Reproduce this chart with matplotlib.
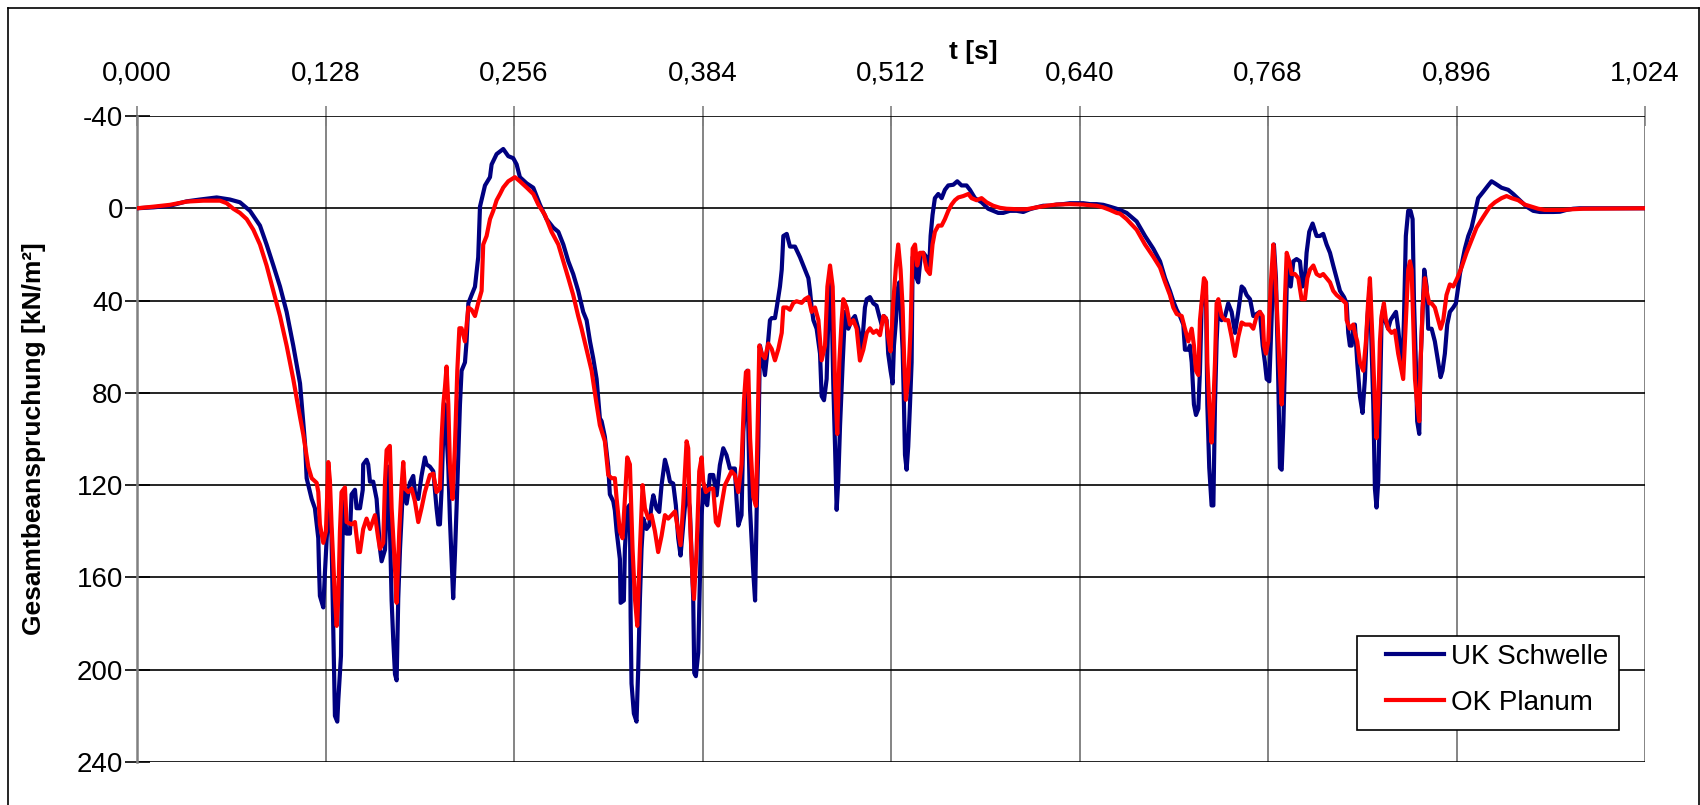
import matplotlib
matplotlib.use("Agg")
import matplotlib.pyplot as plt
from matplotlib.patches import Rectangle
from matplotlib.lines import Line2D

plt.rcParams['font.family'] = ['Liberation Sans', 'DejaVu Sans']

# ---------------- data ----------------
x_ticks = [0.000, 0.128, 0.256, 0.384, 0.512, 0.640, 0.768, 0.896, 1.024]
x_tick_labels = ["0,000", "0,128", "0,256", "0,384", "0,512", "0,640", "0,768", "0,896", "1,024"]
y_ticks = [-40, 0, 40, 80, 120, 160, 200, 240]

uk_t = [0.0000, 0.0111, 0.0224, 0.0337, 0.0428, 0.0541, 0.0631, 0.0699, 0.0767, 0.0835,
        0.0880, 0.0926, 0.0971, 0.1016, 0.1061, 0.1107, 0.1141, 0.1152, 0.1186, 0.1208,
        0.1231, 0.1236, 0.1242, 0.1265, 0.1276, 0.1299, 0.1310, 0.1321, 0.1333, 0.1344,
        0.1360, 0.1367, 0.1385, 0.1392, 0.1401, 0.1423, 0.1446, 0.1457, 0.1480, 0.1491,
        0.1514, 0.1533, 0.1536, 0.1559, 0.1570, 0.1582, 0.1604, 0.1627, 0.1650, 0.1661,
        0.1684, 0.1706, 0.1718, 0.1729, 0.1740, 0.1752, 0.1763, 0.1774, 0.1786, 0.1808,
        0.1831, 0.1853, 0.1876, 0.1887, 0.1910, 0.1932, 0.1955, 0.1966, 0.1989, 0.2012,
        0.2034, 0.2046, 0.2057, 0.2068, 0.2080, 0.2091, 0.2114, 0.2125, 0.2136, 0.2147,
        0.2159, 0.2170, 0.2181, 0.2193, 0.2204, 0.2227, 0.2238, 0.2250, 0.2272, 0.2295,
        0.2317, 0.2329, 0.2363, 0.2397, 0.2408, 0.2442, 0.2487, 0.2521, 0.2555, 0.2578,
        0.2600, 0.2646, 0.2691, 0.2736, 0.2781, 0.2827, 0.2861, 0.2895, 0.2929, 0.2962,
        0.2996, 0.3030, 0.3053, 0.3076, 0.3098, 0.3121, 0.3143, 0.3155, 0.3177, 0.3200,
        0.3211, 0.3234, 0.3245, 0.3257, 0.3279, 0.3284, 0.3306, 0.3313, 0.3329, 0.3347,
        0.3352, 0.3358, 0.3374, 0.3392, 0.3404, 0.3415, 0.3426, 0.3438, 0.3460, 0.3478,
        0.3494, 0.3506, 0.3528, 0.3546, 0.3562, 0.3585, 0.3601, 0.3619, 0.3641, 0.3659,
        0.3675, 0.3691, 0.3709, 0.3732, 0.3754, 0.3777, 0.3784, 0.3795, 0.3811, 0.3822,
        0.3834, 0.3845, 0.3856, 0.3872, 0.3890, 0.3913, 0.3936, 0.3958, 0.3981, 0.4003,
        0.4026, 0.4060, 0.4071, 0.4083, 0.4105, 0.4117, 0.4135, 0.4144, 0.4151, 0.4163,
        0.4185, 0.4197, 0.4208, 0.4219, 0.4230, 0.4242, 0.4264, 0.4276, 0.4298, 0.4310,
        0.4332, 0.4344, 0.4366, 0.4378, 0.4389, 0.4412, 0.4434, 0.4468, 0.4502, 0.4536,
        0.4559, 0.4570, 0.4581, 0.4593, 0.4615, 0.4638, 0.4649, 0.4665, 0.4683, 0.4694,
        0.4706, 0.4717, 0.4728, 0.4740, 0.4751, 0.4762, 0.4774, 0.4792, 0.4808, 0.4830,
        0.4853, 0.4875, 0.4898, 0.4921, 0.4943, 0.4955, 0.4977, 0.5000, 0.5022, 0.5040,
        0.5056, 0.5072, 0.5090, 0.5101, 0.5117, 0.5131, 0.5140, 0.5154, 0.5163, 0.5176,
        0.5185, 0.5199, 0.5208, 0.5215, 0.5226, 0.5237, 0.5249, 0.5260, 0.5267, 0.5283,
        0.5294, 0.5305, 0.5321, 0.5339, 0.5362, 0.5380, 0.5389, 0.5402, 0.5418, 0.5441,
        0.5464, 0.5486, 0.5509, 0.5543, 0.5570, 0.5599, 0.5633, 0.5656, 0.5690, 0.5735,
        0.5780, 0.5814, 0.5848, 0.5882, 0.5927, 0.5973, 0.6018, 0.6063, 0.6109, 0.6154,
        0.6199, 0.6244, 0.6290, 0.6335, 0.6380, 0.6425, 0.6471, 0.6516, 0.6561, 0.6606,
        0.6652, 0.6674, 0.6720, 0.6788, 0.6845, 0.6901, 0.6947, 0.6981, 0.7014, 0.7037,
        0.7060, 0.7082, 0.7105, 0.7116, 0.7139, 0.7150, 0.7162, 0.7177, 0.7191, 0.7207,
        0.7218, 0.7229, 0.7245, 0.7259, 0.7268, 0.7281, 0.7297, 0.7309, 0.7320, 0.7331,
        0.7343, 0.7365, 0.7388, 0.7410, 0.7433, 0.7456, 0.7478, 0.7501, 0.7517, 0.7535,
        0.7558, 0.7580, 0.7603, 0.7625, 0.7644, 0.7659, 0.7671, 0.7689, 0.7698, 0.7711,
        0.7720, 0.7734, 0.7750, 0.7761, 0.7773, 0.7784, 0.7795, 0.7807, 0.7818, 0.7834,
        0.7852, 0.7874, 0.7897, 0.7915, 0.7931, 0.7942, 0.7960, 0.7983, 0.8010, 0.8033,
        0.8055, 0.8078, 0.8101, 0.8123, 0.8146, 0.8169, 0.8196, 0.8214, 0.8225, 0.8236,
        0.8248, 0.8259, 0.8270, 0.8286, 0.8304, 0.8322, 0.8338, 0.8354, 0.8372, 0.8383,
        0.8395, 0.8406, 0.8417, 0.8429, 0.8440, 0.8451, 0.8463, 0.8474, 0.8496, 0.8512,
        0.8530, 0.8549, 0.8564, 0.8580, 0.8594, 0.8603, 0.8616, 0.8632, 0.8648, 0.8662,
        0.8671, 0.8684, 0.8693, 0.8707, 0.8716, 0.8730, 0.8741, 0.8757, 0.8768, 0.8791,
        0.8813, 0.8836, 0.8852, 0.8865, 0.8881, 0.8897, 0.8915, 0.8938, 0.8956, 0.8972,
        0.8983, 0.8994, 0.9017, 0.9040, 0.9062, 0.9085, 0.9107, 0.9141, 0.9175, 0.9198,
        0.9221, 0.9266, 0.9311, 0.9345, 0.9390, 0.9436, 0.9481, 0.9526, 0.9571, 0.9617,
        0.9662, 0.9707, 0.9752, 0.9798, 0.9866, 1.0240]
uk_v = [0.0, -0.4, -1.1, -3.0, -3.8, -4.7, -3.8, -2.6, 1.1, 7.5,
        15.7, 24.8, 33.9, 44.9, 59.5, 75.9, 102.0, 117.0, 126.0, 130.0,
        143.0, 156.0, 168.0, 173.0, 158.0, 130.0, 130.0, 143.0, 184.0, 220.0,
        222.5, 213.0, 194.0, 155.0, 127.0, 141.0, 141.0, 124.0, 122.0, 130.0,
        130.0, 122.0, 111.0, 109.0, 111.0, 118.5, 118.5, 126.0, 147.6, 153.0,
        148.0, 112.0, 140.0, 170.0, 187.0, 202.0, 204.6, 169.0, 147.6, 118.5,
        128.0, 119.0, 116.0, 123.0, 126.0, 116.0, 108.0, 111.0, 112.0, 114.0,
        130.0, 137.0, 137.0, 122.0, 97.0, 85.0, 112.0, 135.0, 152.0, 169.0,
        150.0, 130.0, 108.0, 85.0, 70.4, 66.8, 57.7, 41.2, 37.6, 34.0,
        21.2, -0.7, -9.9, -13.5, -19.0, -23.5, -25.7, -22.6, -21.7, -19.0,
        -13.5, -10.8, -8.9, -1.6, 4.7, 8.4, 10.2, 15.7, 23.0, 28.5,
        35.8, 44.9, 48.5, 57.7, 65.0, 74.0, 91.0, 92.3, 99.0, 112.0,
        124.0, 127.0, 131.0, 140.0, 152.0, 171.0, 170.0, 147.6, 130.0, 128.5,
        177.0, 206.0, 219.0, 222.5, 198.6, 169.4, 147.6, 134.5, 139.0, 137.5,
        128.7, 124.4, 130.2, 131.6, 120.0, 109.0, 112.8, 118.5, 119.3, 128.7,
        143.0, 150.5, 137.5, 121.5, 130.2, 169.4, 201.4, 202.8, 192.6, 162.0,
        133.0, 121.5, 126.0, 128.7, 115.6, 115.6, 124.4, 111.3, 104.0, 107.0,
        112.8, 112.8, 126.0, 137.5, 133.0, 97.0, 80.0, 70.4, 94.0, 130.7,
        158.0, 170.0, 130.7, 103.3, 59.5, 63.0, 72.3, 65.0, 48.5, 47.6,
        47.6, 43.0, 33.9, 26.6, 12.0, 11.1, 16.6, 16.6, 21.2, 26.6,
        30.3, 35.8, 43.0, 48.5, 52.2, 63.0, 81.4, 83.2, 74.0, 48.5,
        30.3, 41.2, 75.9, 103.3, 130.7, 117.9, 94.2, 66.8, 44.9, 52.2,
        48.5, 46.7, 52.2, 61.3, 43.0, 39.4, 38.5, 41.2, 42.2, 46.7,
        50.4, 46.7, 48.5, 63.0, 70.4, 75.9, 59.5, 48.5, 35.8, 32.1,
        43.0, 61.3, 85.0, 106.9, 113.3, 103.3, 85.0, 66.8, 21.2, 19.3,
        30.3, 32.1, 21.2, 19.3, 21.2, 24.8, 12.0, 2.9, -4.4, -6.2,
        -4.4, -8.0, -9.9, -10.2, -11.7, -9.9, -9.9, -8.0, -4.4, -2.6,
        0.2, 1.1, 2.0, 2.0, 1.1, 1.1, 1.6, 0.4, -0.4, -1.1,
        -1.1, -1.6, -1.8, -2.2, -2.2, -2.2, -1.8, -1.8, -1.5, -0.7,
        0.2, 0.7, 2.0, 5.7, 12.0, 17.5, 23.0, 30.3, 35.8, 40.3,
        44.0, 46.7, 50.4, 61.3, 61.3, 59.5, 66.8, 85.0, 89.6, 86.9,
        70.4, 43.0, 33.9, 37.6, 85.0, 112.4, 128.8, 128.8, 85.0, 57.7,
        41.2, 48.5, 46.7, 41.2, 44.9, 54.0, 44.9, 33.9, 34.9, 37.6,
        39.4, 46.7, 45.8, 44.9, 59.5, 66.8, 74.0, 75.0, 59.5, 35.8,
        15.7, 30.3, 75.9, 112.4, 113.3, 94.2, 66.8, 33.9, 23.0, 33.9,
        23.0, 22.0, 23.0, 33.9, 30.3, 19.3, 10.2, 6.6, 12.0, 12.0,
        11.1, 15.7, 19.3, 24.8, 30.3, 35.8, 38.5, 41.2, 54.0, 59.5,
        59.5, 52.2, 50.4, 66.8, 81.4, 88.7, 74.0, 48.5, 34.0, 59.5,
        85.0, 121.5, 129.7, 117.9, 85.0, 48.5, 43.0, 48.5, 52.2, 48.5,
        46.7, 44.9, 52.2, 63.0, 66.8, 48.5, 12.0, 1.1, 1.1, 4.7,
        39.4, 66.8, 92.3, 97.8, 66.8, 44.9, 26.6, 33.9, 52.2, 52.2,
        57.7, 66.8, 73.2, 70.4, 63.0, 50.4, 44.9, 43.0, 41.2, 33.9,
        28.5, 24.8, 17.5, 12.0, 8.4, 2.0, -4.4, -7.1, -9.9, -11.7,
        -10.8, -8.9, -8.0, -6.2, -3.5, -0.7, 1.1, 1.6, 1.6, 1.6,
        1.5, 0.7, 0.2, 0.0, 0.0, 0.0]

ok_t = [0.0000, 0.0111, 0.0224, 0.0337, 0.0451, 0.0564, 0.0609, 0.0654, 0.0699, 0.0745,
        0.0790, 0.0835, 0.0880, 0.0926, 0.0971, 0.1016, 0.1061, 0.1107, 0.1129, 0.1163,
        0.1186, 0.1220, 0.1231, 0.1242, 0.1265, 0.1283, 0.1299, 0.1310, 0.1321, 0.1344,
        0.1356, 0.1367, 0.1378, 0.1389, 0.1412, 0.1423, 0.1457, 0.1480, 0.1503, 0.1514,
        0.1536, 0.1559, 0.1582, 0.1616, 0.1638, 0.1650, 0.1672, 0.1684, 0.1695, 0.1717,
        0.1729, 0.1751, 0.1763, 0.1781, 0.1797, 0.1808, 0.1819, 0.1842, 0.1865, 0.1887,
        0.1910, 0.1932, 0.1955, 0.1989, 0.2012, 0.2034, 0.2057, 0.2068, 0.2080, 0.2091,
        0.2102, 0.2114, 0.2125, 0.2143, 0.2159, 0.2175, 0.2189, 0.2204, 0.2227, 0.2250,
        0.2272, 0.2295, 0.2317, 0.2340, 0.2351, 0.2374, 0.2397, 0.2419, 0.2442, 0.2465,
        0.2487, 0.2521, 0.2566, 0.2600, 0.2646, 0.2691, 0.2725, 0.2770, 0.2815, 0.2861,
        0.2895, 0.2929, 0.2962, 0.2996, 0.3019, 0.3053, 0.3087, 0.3121, 0.3143, 0.3177,
        0.3200, 0.3223, 0.3245, 0.3257, 0.3279, 0.3297, 0.3313, 0.3329, 0.3347, 0.3365,
        0.3381, 0.3397, 0.3415, 0.3433, 0.3449, 0.3472, 0.3494, 0.3517, 0.3539, 0.3562,
        0.3585, 0.3607, 0.3630, 0.3653, 0.3675, 0.3691, 0.3709, 0.3732, 0.3743, 0.3754,
        0.3773, 0.3782, 0.3800, 0.3818, 0.3834, 0.3845, 0.3863, 0.3890, 0.3913, 0.3931,
        0.3947, 0.3969, 0.3992, 0.4015, 0.4037, 0.4060, 0.4083, 0.4105, 0.4122, 0.4135,
        0.4151, 0.4163, 0.4185, 0.4203, 0.4215, 0.4226, 0.4242, 0.4264, 0.4287, 0.4310,
        0.4332, 0.4355, 0.4378, 0.4389, 0.4412, 0.4434, 0.4457, 0.4479, 0.4513, 0.4536,
        0.4559, 0.4581, 0.4604, 0.4627, 0.4649, 0.4672, 0.4688, 0.4706, 0.4724, 0.4740,
        0.4755, 0.4769, 0.4785, 0.4796, 0.4819, 0.4841, 0.4864, 0.4887, 0.4909, 0.4932,
        0.4955, 0.4977, 0.5000, 0.5022, 0.5045, 0.5068, 0.5086, 0.5101, 0.5117, 0.5135,
        0.5154, 0.5169, 0.5185, 0.5199, 0.5210, 0.5221, 0.5237, 0.5253, 0.5267, 0.5283,
        0.5298, 0.5316, 0.5339, 0.5362, 0.5384, 0.5402, 0.5418, 0.5441, 0.5464, 0.5486,
        0.5509, 0.5531, 0.5554, 0.5577, 0.5611, 0.5645, 0.5667, 0.5701, 0.5735, 0.5769,
        0.5814, 0.5860, 0.5905, 0.5973, 0.6041, 0.6109, 0.6176, 0.6244, 0.6335, 0.6425,
        0.6516, 0.6561, 0.6606, 0.6652, 0.6675, 0.6720, 0.6788, 0.6845, 0.6901, 0.6947,
        0.6981, 0.7014, 0.7037, 0.7060, 0.7094, 0.7116, 0.7139, 0.7162, 0.7177, 0.7191,
        0.7207, 0.7218, 0.7229, 0.7245, 0.7259, 0.7268, 0.7281, 0.7297, 0.7309, 0.7320,
        0.7331, 0.7343, 0.7365, 0.7388, 0.7410, 0.7433, 0.7456, 0.7478, 0.7501, 0.7524,
        0.7558, 0.7580, 0.7603, 0.7625, 0.7644, 0.7653, 0.7666, 0.7682, 0.7698, 0.7716,
        0.7727, 0.7743, 0.7757, 0.7773, 0.7784, 0.7795, 0.7807, 0.7825, 0.7840, 0.7863,
        0.7886, 0.7908, 0.7931, 0.7947, 0.7965, 0.7988, 0.8010, 0.8033, 0.8055, 0.8078,
        0.8101, 0.8123, 0.8146, 0.8180, 0.8209, 0.8214, 0.8236, 0.8259, 0.8270, 0.8286,
        0.8304, 0.8327, 0.8345, 0.8361, 0.8372, 0.8390, 0.8406, 0.8417, 0.8429, 0.8440,
        0.8451, 0.8467, 0.8481, 0.8496, 0.8519, 0.8542, 0.8564, 0.8587, 0.8598, 0.8616,
        0.8632, 0.8644, 0.8655, 0.8666, 0.8678, 0.8693, 0.8707, 0.8716, 0.8730, 0.8745,
        0.8757, 0.8775, 0.8791, 0.8813, 0.8836, 0.8852, 0.8870, 0.8892, 0.8915, 0.8938,
        0.8965, 0.8994, 0.9028, 0.9062, 0.9096, 0.9141, 0.9187, 0.9221, 0.9266, 0.9300,
        0.9334, 0.9379, 0.9424, 0.9470, 0.9515, 0.9560, 0.9617, 0.9685, 0.9752, 0.9820,
        1.0240]
ok_v = [0.0, -0.7, -1.5, -2.9, -3.3, -3.3, -2.2, 0.2, 2.0, 4.7,
        9.3, 15.7, 24.8, 35.8, 46.7, 59.5, 74.0, 90.5, 98.0, 112.0,
        117.0, 119.0, 123.0, 137.0, 145.0, 140.0, 110.0, 118.0, 137.0, 169.0,
        181.0, 169.0, 140.0, 123.0, 121.0, 136.0, 137.0, 136.0, 149.0, 149.0,
        139.0, 134.5, 139.0, 133.0, 143.0, 147.6, 145.0, 118.5, 104.8, 103.0,
        130.0, 155.0, 171.0, 140.0, 120.0, 110.0, 121.5, 123.0, 121.5, 127.0,
        136.0, 130.0, 123.0, 115.6, 115.0, 123.0, 121.5, 100.0, 85.0, 77.7,
        68.6, 85.0, 112.0, 126.0, 103.0, 70.4, 52.0, 52.0, 57.7, 43.0,
        44.0, 46.7, 41.0, 35.8, 15.7, 12.0, 4.7, 1.1, -3.5, -6.2,
        -9.0, -11.7, -13.5, -11.7, -9.0, -6.2, -1.6, 2.9, 10.2, 15.7,
        23.0, 30.3, 37.6, 46.7, 52.2, 61.3, 70.4, 85.0, 94.0, 101.0,
        115.6, 117.0, 117.0, 126.0, 140.0, 143.0, 126.0, 108.0, 111.0, 147.6,
        169.0, 181.0, 147.6, 120.0, 130.0, 134.5, 133.0, 140.0, 149.0, 142.0,
        133.0, 134.5, 133.0, 131.4, 140.0, 146.0, 128.5, 101.0, 104.0, 133.0,
        162.0, 169.4, 147.6, 114.0, 108.0, 118.5, 123.0, 121.5, 121.5, 136.0,
        137.5, 128.7, 120.0, 117.0, 114.0, 115.6, 123.0, 111.0, 83.0, 71.0,
        70.4, 99.6, 125.0, 129.0, 92.0, 59.5, 63.0, 65.0, 58.6, 61.0,
        65.9, 61.0, 54.0, 43.0, 43.0, 44.0, 41.0, 40.3, 41.0, 39.4,
        38.5, 44.9, 43.0, 48.5, 65.9, 59.5, 34.0, 24.8, 34.0, 75.9,
        97.8, 66.8, 48.5, 39.4, 43.0, 50.4, 48.5, 52.2, 66.0, 61.3,
        54.0, 52.0, 54.0, 53.0, 55.0, 46.7, 47.6, 55.8, 62.0, 41.2,
        24.8, 15.7, 26.6, 43.0, 66.8, 83.0, 74.0, 52.2, 17.5, 15.7,
        24.8, 19.3, 19.3, 26.6, 28.5, 15.7, 10.2, 7.5, 7.5, 4.7,
        1.1, -1.6, -3.5, -4.7, -5.3, -6.2, -4.4, -3.5, -4.4, -2.6,
        -1.1, -0.2, 0.2, 0.4, 0.4, -0.4, -1.1, -1.6, -1.8, -1.6,
        -1.1, -0.4, 0.7, 2.0, 2.3, 4.7, 9.3, 15.7, 21.0, 25.7,
        32.0, 37.6, 43.0, 45.8, 46.7, 52.2, 57.7, 52.2, 59.5, 70.4,
        72.3, 48.5, 41.2, 30.3, 32.0, 66.8, 85.0, 101.5, 85.0, 66.8,
        41.2, 39.4, 46.7, 48.5, 48.5, 55.8, 64.0, 55.8, 49.5, 50.4,
        50.4, 52.2, 46.7, 44.9, 46.7, 59.5, 63.0, 57.7, 33.9, 15.7,
        26.6, 46.7, 66.8, 85.0, 66.8, 39.4, 19.3, 23.0, 28.5, 28.5,
        30.3, 39.4, 39.4, 30.3, 26.6, 24.8, 28.5, 29.4, 28.5, 30.3,
        32.1, 35.8, 37.6, 39.4, 41.2, 48.5, 52.2, 50.4, 54.0, 57.7,
        66.8, 70.4, 57.7, 39.4, 30.3, 57.7, 85.0, 99.6, 85.0, 57.7,
        46.7, 41.2, 48.5, 52.2, 54.0, 53.0, 63.0, 70.4, 74.0, 48.5,
        26.6, 23.0, 26.6, 48.5, 74.0, 85.0, 92.3, 66.8, 43.0, 30.3,
        35.8, 41.2, 41.2, 43.0, 48.5, 52.2, 48.5, 37.6, 33.0, 33.9,
        30.3, 25.7, 19.3, 13.9, 8.4, 3.8, -0.7, -2.6, -4.4, -5.3,
        -4.4, -3.5, -1.6, -0.7, 0.2, 0.7, 0.7, 0.7, 0.4, 0.2,
        0.0]

series_names = ["UK Schwelle", "OK Planum"]
series_colors = ["#000080", "#FF0000"]

# ---------------- figure ----------------
W, H = 1700, 805
fig = plt.figure(figsize=(W / 100, H / 100), dpi=100)

# outer chart frame
fig.add_artist(Line2D([8 / W, 8 / W], [0, 1 - 8 / H], color="black", lw=1.2))
fig.add_artist(Line2D([8 / W, 1 - 1 / W], [1 - 8 / H, 1 - 8 / H], color="black", lw=1.2))
fig.add_artist(Line2D([1 - 1 / W, 1 - 1 / W], [0, 1 - 8 / H], color="black", lw=1.2))

left, right, top, bottom = 137, 1645, 116, 762
ax = fig.add_axes([left / W, 1 - bottom / H, (right - left) / W, (bottom - top) / H])

h_uk, = ax.plot(uk_t, uk_v, color=series_colors[0], lw=3.0, label=series_names[0], zorder=3,
                solid_joinstyle="round")
h_ok, = ax.plot(ok_t, ok_v, color=series_colors[1], lw=3.0, label=series_names[1], zorder=4,
                solid_joinstyle="round")

ax.set_xlim(0, 1.024)
ax.set_ylim(240, -40)

ax.set_xticks(x_ticks)
ax.set_xticklabels(x_tick_labels)
ax.set_yticks(y_ticks)
ax.set_yticklabels([str(v) for v in y_ticks])

ax.xaxis.tick_top()
ax.tick_params(axis="x", direction="inout", length=14, width=1.2, color="#808080",
               labelsize=20, pad=14)
ax.tick_params(axis="y", direction="inout", length=18, width=1.2, color="black",
               labelsize=20, pad=1)

for s in ["top", "right", "bottom"]:
    ax.spines[s].set_visible(False)
ax.spines["left"].set_color("#808080")
ax.spines["left"].set_linewidth(1.8)

ax.grid(axis="y", color="black", lw=1.2)
ax.grid(axis="x", color="#707070", lw=1.2)
ax.set_axisbelow(True)

ax.set_ylabel("Gesamtbeanspruchung [kN/m²]", fontsize=19, fontweight="bold", labelpad=22)
fig.text(973 / W, 1 - 52 / H, "t [s]", fontsize=19, fontweight="bold",
         ha="center", va="center")

# legend: frame drawn separately to match the box proportions
box = Rectangle((1357 / W, 1 - 730 / H), (1619 - 1357) / W, (730 - 636) / H,
                transform=fig.transFigure, facecolor="white",
                edgecolor="black", lw=1.2, zorder=5)
fig.add_artist(box)
leg = fig.legend(handles=[h_uk, h_ok], labels=series_names, loc="upper left",
                 bbox_to_anchor=(1386 / W, 1 - 644 / H),
                 bbox_transform=fig.transFigure, fontsize=20, frameon=False,
                 borderpad=0, labelspacing=0.72, handlelength=2.1,
                 handletextpad=0.25, borderaxespad=0)
leg.set_zorder(6)
for line in leg.get_lines():
    line.set_linewidth(3)
for txt in leg.get_texts():
    txt.set_color("black")

fig.savefig("out.png", dpi=100)
